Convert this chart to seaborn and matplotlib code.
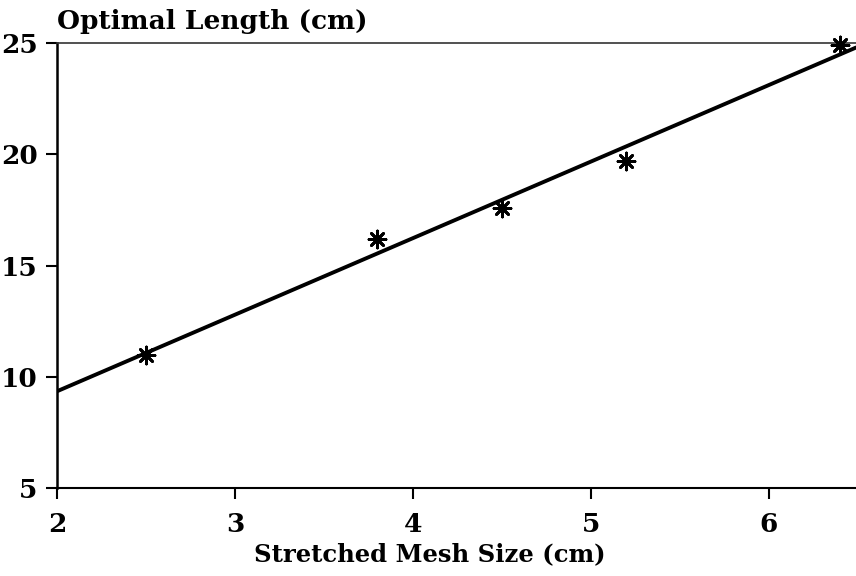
import matplotlib
matplotlib.use("Agg")
import matplotlib.pyplot as plt
import seaborn as sns
import numpy as np
import pandas as pd

mesh_size = [2.5, 3.8, 4.5, 5.2, 6.4]
optimal_length = [11.0, 16.2, 17.6, 19.7, 24.9]
x_ticks = [2, 3, 4, 5, 6]
y_ticks = [5, 10, 15, 20, 25]

df = pd.DataFrame({"mesh": mesh_size, "length": optimal_length})

sns.set_style("ticks")
plt.rcParams["font.family"] = ["DejaVu Serif"]
plt.rcParams["font.weight"] = "bold"
plt.rcParams["text.color"] = "black"
plt.rcParams["axes.labelcolor"] = "black"

fig = plt.figure(figsize=(8.56, 5.76), dpi=100)
ax = fig.add_axes([57/856, 1 - 488/576, 1 - 57/856, (488 - 43)/576])
ax.set_xlim(2, 6.49)
ax.set_ylim(5, 25)

sns.regplot(data=df, x="mesh", y="length", ax=ax, ci=None, truncate=False,
            marker=(8, 2, 0), color="black",
            scatter_kws=dict(s=150, linewidths=2.0, alpha=1, zorder=3, clip_on=False),
            line_kws=dict(color="black", lw=2.8, zorder=2))

ax.set_xticks(x_ticks)
ax.set_yticks(y_ticks)
ax.tick_params(axis="both", direction="out", length=8, width=1.5, labelsize=19,
               colors="black", labelcolor="black")
ax.tick_params(axis="x", pad=9)
ax.tick_params(axis="y", pad=6)
for lab in ax.get_xticklabels() + ax.get_yticklabels():
    lab.set_fontweight("bold")

ax.spines["right"].set_visible(False)
ax.spines["left"].set_linewidth(1.8)
ax.spines["bottom"].set_linewidth(1.5)
ax.spines["top"].set_linewidth(1.2)
ax.spines["left"].set_color("black")
ax.spines["bottom"].set_color("black")
ax.spines["top"].set_color("#333333")

ax.set_xlabel("Stretched Mesh Size (cm)", fontsize=17.5, fontweight="bold", color="black")
ax.xaxis.set_label_coords(0.466, -0.122)
ax.set_ylabel("")
fig.text(57/856, 1 - 21/576, "Optimal Length (cm)", fontsize=19, fontweight="bold",
         ha="left", va="center", color="black")

fig.savefig("out.png", dpi=100)
